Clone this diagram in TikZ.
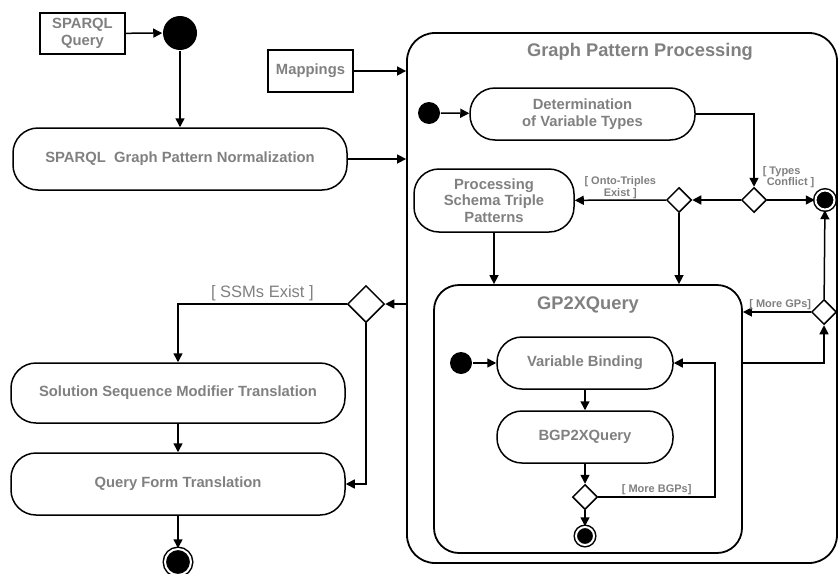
\documentclass[tikz,border=0pt]{standalone}
\usepackage{fontspec}
\setmainfont{Liberation Sans}
\usetikzlibrary{arrows.meta,shapes.geometric}

\definecolor{labelgray}{RGB}{128,128,128}

\begin{document}
\begin{tikzpicture}[x=1pt, y=-1pt, line width=1.5pt,
    box/.style={draw, rectangle, align=center, inner sep=0pt, text=labelgray,
      font=\fontsize{14.8}{16.5}\selectfont\bfseries},
    act/.style={box, rounded corners=25pt},
    region/.style={draw, rectangle, rounded corners=#1, line width=1.8pt},
    heading/.style={text=labelgray, font=\fontsize{18.3}{20}\selectfont\bfseries},
    init/.style={circle, fill=black, inner sep=0pt, minimum size=#1},
    final/.style={circle, draw, fill=black, double=white, double distance=2pt,
      inner sep=0pt, minimum size=#1},
    dec/.style={diamond, aspect=1, draw, fill=white, inner sep=0pt, minimum size=#1},
    guard/.style={text=labelgray, align=center, inner sep=1pt,
      font=\fontsize{11}{11.5}\selectfont\bfseries},
    flow/.style={-{Triangle[length=9pt,width=9pt]}}]
  \clip (0,0) rectangle (838,573);
  \useasboundingbox (0,0) rectangle (838,573);

  % input and normalization
  \node[box, minimum width=85pt, minimum height=41pt] (query) at (82.5,33.5) {SPARQL\\Query};
  \node[init=34pt] (start) at (180,33) {};
  \node[act, minimum width=334pt, minimum height=62pt] (norm) at (180,159)
    {SPARQL\ \ Graph Pattern Normalization};
  \node[box, minimum width=85pt, minimum height=42pt] (map) at (310.5,71) {Mappings};

  % graph pattern processing
  \node[region=28pt, minimum width=430pt, minimum height=530pt] (gpp) at (622,298) {};
  \node[heading] (gpptitle) at (640,52) {Graph Pattern Processing};
  \node[init=22pt] (start2) at (429,113) {};
  \node[act, minimum width=225pt, minimum height=52pt] (det) at (582.5,114)
    {Determination\\of Variable Types};
  \node[dec=25pt] (dec1) at (754,200) {};
  \node[final=19pt] (end1) at (825,200) {};
  \node[dec=25pt] (dec2) at (679,200) {};
  \node[act, minimum width=160pt, minimum height=63pt] (proc) at (494,200.5)
    {Processing\\Schema Triple\\Patterns};
  \node[guard, align=left, anchor=west] (typeslbl) at (761,177)
    {[ Types\\\hspace{4pt}Conflict ]};

  % GP2XQuery
  \node[region=25pt, minimum width=308pt, minimum height=268pt] (gpx) at (588,419) {};
  \node[heading] (gpxtitle) at (588,305) {GP2XQuery};
  \node[init=22pt] (start3) at (461,363) {};
  \node[act, minimum width=176pt, minimum height=52pt] (bind) at (585,363) {Variable Binding};
  \node[act, minimum width=176pt, minimum height=52pt] (bgp) at (585,437) {BGP2XQuery};
  \node[dec=25pt] (dec3) at (585,497) {};
  \node[final=18pt] (end3) at (585,536) {};
  \coordinate (loop) at (715,497);
  \node[dec=25pt] (dec4) at (824,312) {};

  % solution modifiers and query form
  \node[dec=37pt] (dec5) at (366,304) {};
  \node[act, minimum width=334pt, minimum height=60pt] (ssm) at (178,393)
    {Solution Sequence Modifier Translation};
  \node[act, minimum width=334pt, minimum height=62pt] (qft) at (178,484)
    {Query Form Translation};
  \node[final=26pt] (end4) at (178,562) {};

  % connectors
  \draw[flow] (query) -- (start);
  \draw[flow] (start) -- (norm);
  \draw[flow] (map) -- (map -| gpp.west);
  \draw[flow] (norm) -- (norm -| gpp.west);
  \draw[flow] (start2) -- (det);
  \draw[flow] (det) -| (dec1);
  \draw[flow] (dec1) -- (end1);
  \draw[flow] (dec1) -- (dec2);
  \draw[flow] (dec2) -- node[guard, above] {[ Onto-Triples\\Exist ]} (proc);
  \draw[flow] (proc) -- (proc |- gpx.north);
  \draw[flow] (dec2) -- (dec2 |- gpx.north);
  \draw[flow] (gpx.east |- bind) -| (dec4);
  \draw[flow] (dec4) -- node[guard, above, pos=0.45] {[ More GPs]} (dec4 -| gpx.east);
  \draw[flow] (dec4) -- (end1);
  \draw[flow] (start3) -- (bind);
  \draw[flow] (bind) -- (bgp);
  \draw[flow] (bgp) -- (dec3);
  \draw[flow] (dec3.east) -- node[guard, above] {[ More BGPs]} (loop) |- (bind.east);
  \draw[flow] (dec3) -- (end3);
  \draw[flow] (dec5 -| gpp.west) -- (dec5);
  \draw[flow] (dec5) -| node[pos=0.25, above, text=labelgray, inner sep=2pt,
    font=\fontsize{16.5}{18}\selectfont] {[ SSMs Exist ]} (ssm);
  \draw[flow] (ssm) -- (qft);
  \draw[flow] (dec5) |- (qft);
  \draw[flow] (qft) -- (end4);
\end{tikzpicture}
\end{document}
